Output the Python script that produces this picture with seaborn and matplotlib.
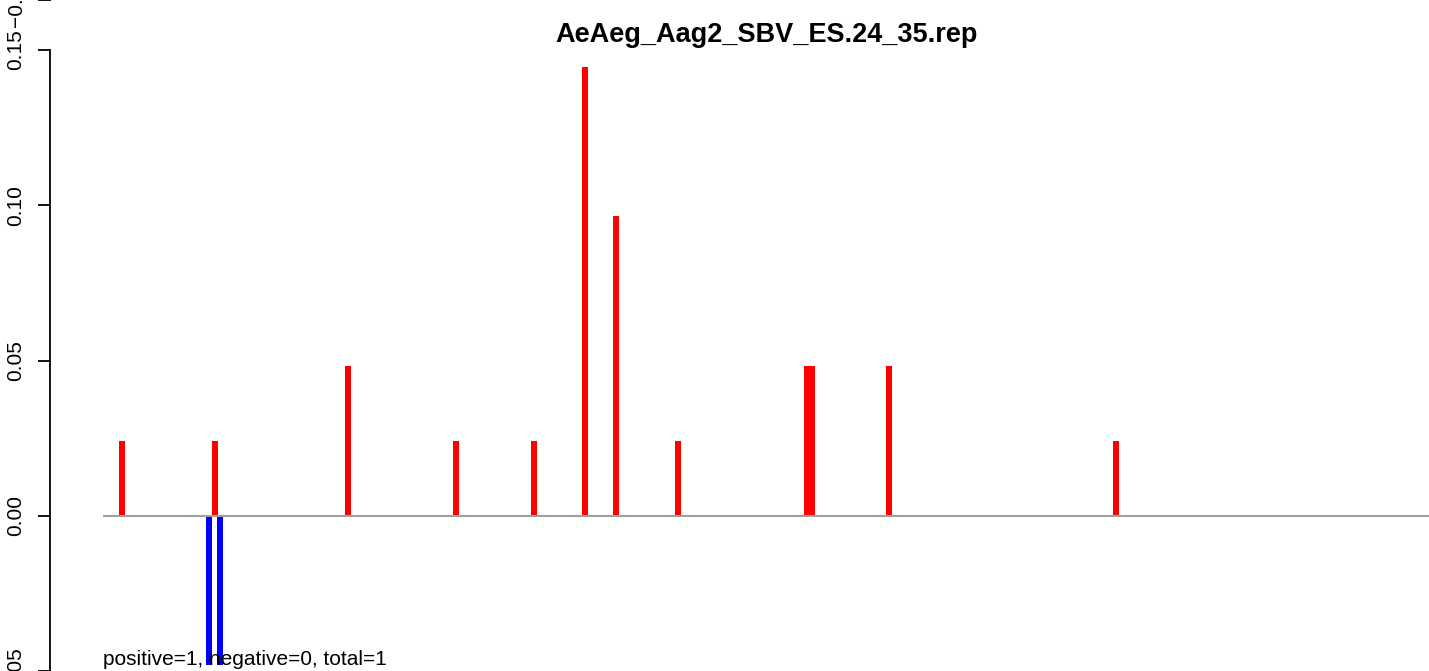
import pandas as pd
import seaborn as sns
import matplotlib.pyplot as plt

title = "AeAeg_Aag2_SBV_ES.24_35.rep"
note = "positive=1, negative=0, total=1"

# positions along the sequence and their relative frequencies
pos_x = [20, 113, 246, 354, 432, 483, 514, 576, 705, 710, 787, 1014]
pos_y = [0.0241, 0.0241, 0.0482, 0.0241, 0.0241, 0.1446, 0.0964, 0.0241,
         0.0482, 0.0482, 0.0482, 0.0241]
neg_x = [107, 118]
neg_y = [-0.0482, -0.0482]
seq_start = 1
seq_end = 1380
y_ticks = [-0.05, 0.0, 0.05, 0.10, 0.15]

df = pd.DataFrame({
    "x": pos_x + neg_x,
    "y": pos_y + neg_y,
    "strand": ["pos"] * len(pos_x) + ["neg"] * len(neg_x),
})

sns.set_theme(style="white")
plt.rcParams["font.family"] = ["Liberation Sans", "DejaVu Sans"]
plt.rcParams["text.color"] = "black"

W, H = 1429, 671
fig = plt.figure(figsize=(W / 100, H / 100), dpi=100)
ax = fig.add_axes([50 / W, 0, 1434 / W, 1 - 50 / H])

sns.barplot(
    data=df, x="x", y="y", hue="strand",
    palette={"pos": "red", "neg": "blue"},
    native_scale=True, dodge=False, saturation=1, errorbar=None,
    width=1.2, linewidth=0, legend=False, ax=ax,
)
ax.hlines(0, seq_start, seq_end, color="#a0a0a0", linewidth=1.5, zorder=5)

ax.set_xlim(-52, 1382)
ax.set_ylim(-0.05, 0.15)
ax.set_yticks(y_ticks)
ax.set_yticklabels([f"{v:.2f}" for v in y_ticks])
ax.set_xticks([])
ax.set(xlabel=None, ylabel=None)


def r_axis(a):
    for s in ["top", "right", "bottom"]:
        a.spines[s].set_visible(False)
    a.spines["left"].set_color("black")
    a.spines["left"].set_linewidth(1.3)
    a.tick_params(axis="y", left=True, length=8.6, width=1.3, color="black",
                  labelsize=15, pad=9, labelcolor="black")
    for lab in a.get_yticklabels():
        lab.set_rotation(90)
        lab.set_va("center")


r_axis(ax)

ax.text(seq_start, -0.0482, note, fontsize=15, ha="left", va="baseline",
        color="black", clip_on=False)
fig.text(767 / W, 1 - 42 / H, title, fontsize=19.5, fontweight="bold",
         ha="center", va="baseline", color="black")

# bottom of the panel above, cut off by the figure edge
top = fig.add_axes([50 / W, 1.0, 1434 / W, 0.5])
top.set_ylim(-0.05, 0.15)
top.set_yticks([-0.05])
top.set_yticklabels(["\u22120.05"])
top.set_xticks([])
r_axis(top)

fig.savefig("out.png", dpi=100)
